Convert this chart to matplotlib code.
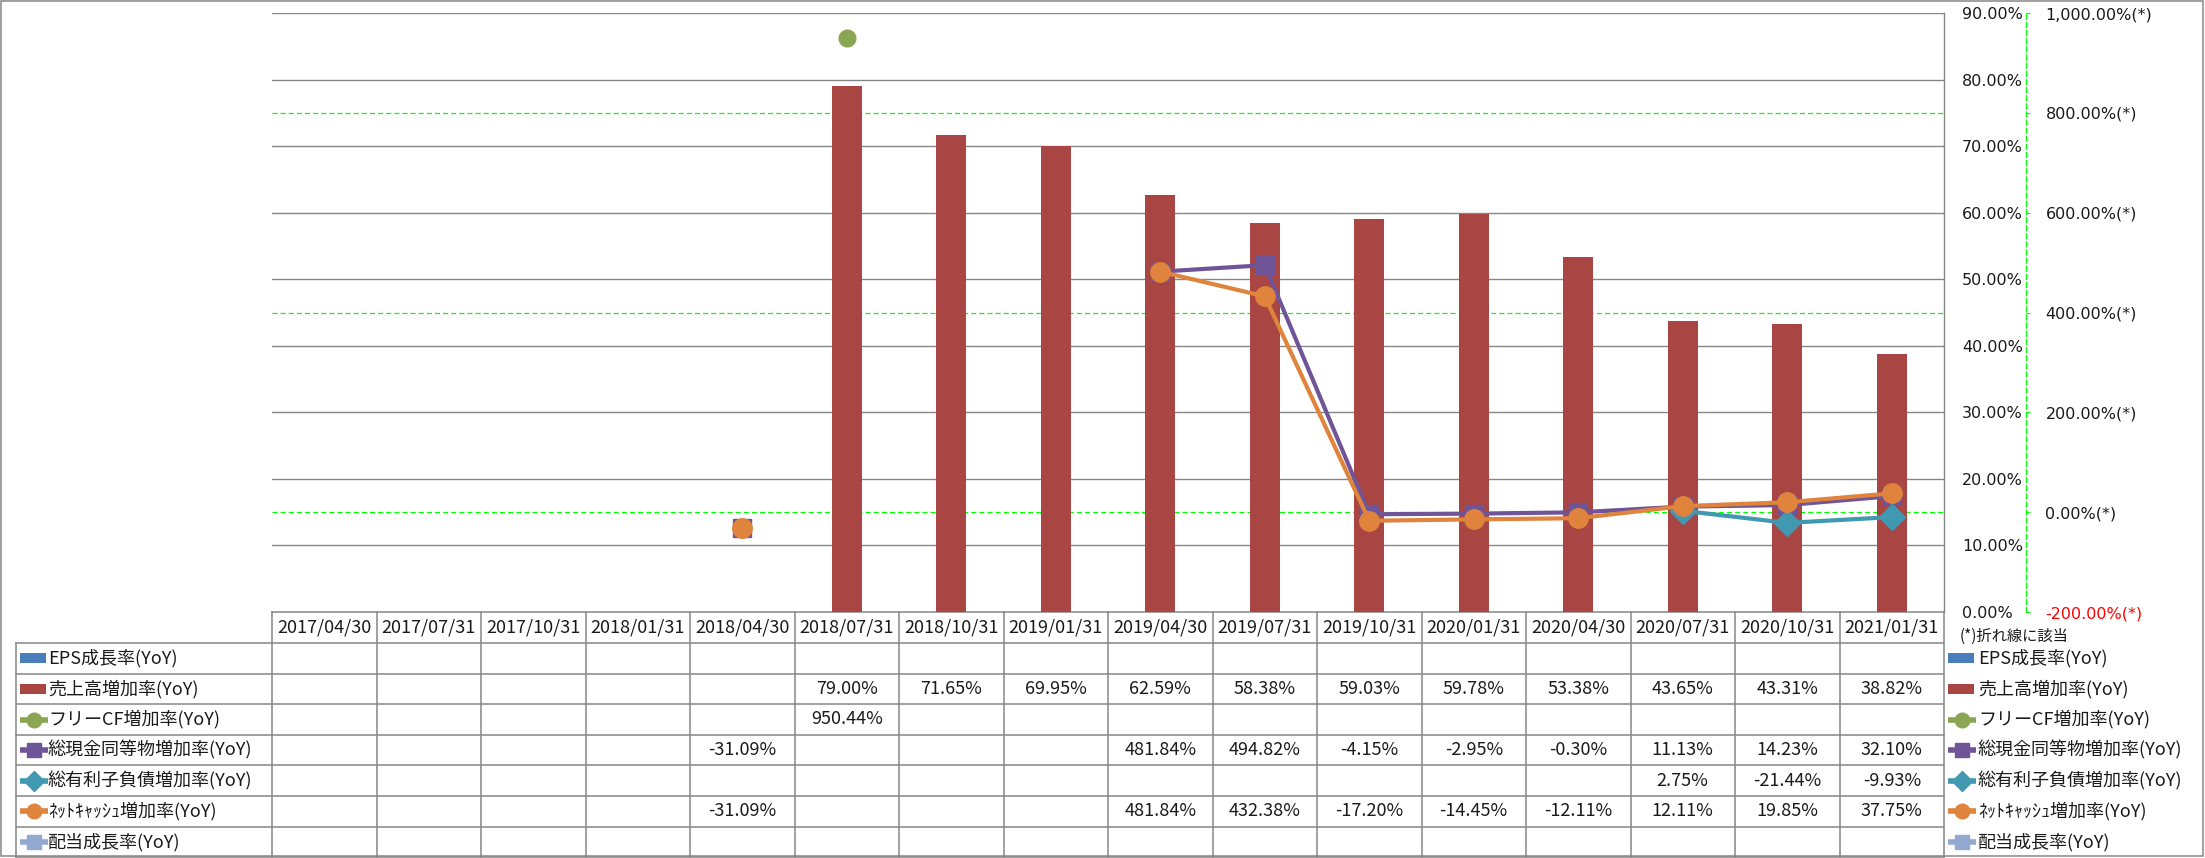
import numpy as np
import matplotlib
matplotlib.use("Agg")
import matplotlib.pyplot as plt
from matplotlib.patches import Rectangle

plt.rcParams['font.family'] = ['Noto Sans CJK JP', 'DejaVu Sans']

nan = np.nan
dates = ["2017/04/30", "2017/07/31", "2017/10/31", "2018/01/31", "2018/04/30",
         "2018/07/31", "2018/10/31", "2019/01/31", "2019/04/30", "2019/07/31",
         "2019/10/31", "2020/01/31", "2020/04/30", "2020/07/31", "2020/10/31",
         "2021/01/31"]

# bars (left scale, %)
eps_growth = [nan] * 16
sales_growth = [nan, nan, nan, nan, nan, 79.00, 71.65, 69.95, 62.59, 58.38,
                59.03, 59.78, 53.38, 43.65, 43.31, 38.82]
# lines (right scale, %)
fcf_growth = [nan, nan, nan, nan, nan, 950.44, nan, nan, nan, nan,
              nan, nan, nan, nan, nan, nan]
cash_growth = [nan, nan, nan, nan, -31.09, nan, nan, nan, 481.84, 494.82,
               -4.15, -2.95, -0.30, 11.13, 14.23, 32.10]
debt_growth = [nan, nan, nan, nan, nan, nan, nan, nan, nan, nan,
               nan, nan, nan, 2.75, -21.44, -9.93]
netcash_growth = [nan, nan, nan, nan, -31.09, nan, nan, nan, 481.84, 432.38,
                  -17.20, -14.45, -12.11, 12.11, 19.85, 37.75]
div_growth = [nan] * 16

names = ["EPS成長率(YoY)", "売上高増加率(YoY)", "フリーCF増加率(YoY)",
         "総現金同等物増加率(YoY)", "総有利子負債増加率(YoY)",
         "ﾈｯﾄｷｬｯｼｭ増加率(YoY)", "配当成長率(YoY)"]
rows = [eps_growth, sales_growth, fcf_growth, cash_growth, debt_growth,
        netcash_growth, div_growth]
colors = ["#4A7EBB", "#A94643", "#8AA652", "#6F5597", "#4099B0", "#E0833C", "#93A9CF"]
kinds = ["bar", "bar", "o", "s", "D", "o", "s"]

left_ticks = np.arange(0, 91, 10)
right_ticks = np.arange(-200, 1001, 200)
right_grid = [0, 400, 800]

W, H = 2205, 858
GRAY = "#868686"
LIME = "#00FF00"
DASH = (0, (4, 2.5))

fig = plt.figure(figsize=(W / 100, H / 100), dpi=100)

# overlay in pixel coordinates for the table and keys
tab = fig.add_axes([0, 0, 1, 1])
tab.set_xlim(0, W)
tab.set_ylim(H, 0)
tab.axis('off')

px_l, px_r, px_t, px_b = 272, 1944, 13, 612
ax = fig.add_axes([px_l / W, 1 - px_b / H, (px_r - px_l) / W, (px_b - px_t) / H])
ax.patch.set_visible(False)
ax2 = ax.twinx()

x = np.arange(len(dates))
ax.set_xlim(-0.5, len(dates) - 0.5)
ax.set_ylim(0, 90)
ax.set_xticks([])
ax.yaxis.tick_right()
ax.set_yticks(left_ticks)
ax.set_yticklabels(["%.2f%%" % v for v in left_ticks])
ax.tick_params(axis='y', left=False, labelleft=False, right=True, labelright=True,
               length=0, pad=13, labelsize=11.5, labelcolor="#1a1a1a",
               labelfontfamily='DejaVu Sans')
for s in ['left', 'top', 'bottom']:
    ax.spines[s].set_visible(False)
ax.spines['right'].set_color(GRAY)
ax.spines['right'].set_linewidth(1.0)
for v in left_ticks[1:]:
    ax.axhline(v, color=GRAY, lw=1.0, zorder=0)

ax2.set_ylim(right_ticks[0], right_ticks[-1])
ax2.set_xlim(ax.get_xlim())

# green dashed grid for the right scale, drawn behind the bars
lo2, hi2 = ax2.get_ylim()
lo1, hi1 = ax.get_ylim()
for v in right_grid:
    ax.axhline(np.interp(v, [lo2, hi2], [lo1, hi1]), color=LIME, lw=0.9,
               linestyle=DASH, zorder=0.5)

ax.bar(x, eps_growth, width=0.29, color=colors[0], zorder=2)
ax.bar(x, sales_growth, width=0.29, color=colors[1], zorder=2)

ax2.plot(x, fcf_growth, color=colors[2], lw=3, marker='o', ms=12, mec=colors[2])
ax2.plot(x, cash_growth, color=colors[3], lw=3, marker='s', ms=13, mec=colors[3])
ax2.plot(x, debt_growth, color=colors[4], lw=3, marker='D', ms=13, mec=colors[4])
ax2.plot(x, netcash_growth, color=colors[5], lw=3, marker='o', ms=14, mec=colors[5])

for s in ['left', 'top', 'bottom']:
    ax2.spines[s].set_visible(False)
ax2.spines['right'].set_position(('outward', 59))
ax2.spines['right'].set_color(LIME)
ax2.spines['right'].set_linestyle(DASH)
ax2.spines['right'].set_linewidth(0.9)
ax2.set_yticks(right_ticks)
ax2.set_yticklabels(["{:,.2f}%(*)".format(v) for v in right_ticks])
ax2.tick_params(axis='y', direction='out', length=3, width=0.8, color=LIME,
                pad=11, labelsize=11.5, labelcolor="#1a1a1a",
                labelfontfamily='DejaVu Sans')
ax2.get_yticklabels()[0].set_color("red")

# outer border
tab.add_patch(Rectangle((1, 1), W - 3, H - 3, fill=False, edgecolor=GRAY, lw=1.1))

# data table
col_w = (px_r - px_l) / len(dates)
head_t, head_b = 612, 643
row_h = 30.6
tbl_b = head_b + row_h * len(names)
lab_l = 16
tab.plot([px_l, px_r], [head_t, head_t], color=GRAY, lw=1.1)
for k in range(len(names) + 1):
    yy = head_b + k * row_h
    tab.plot([lab_l, px_r], [yy, yy], color=GRAY, lw=1.1)
tab.plot([lab_l, lab_l], [head_b, tbl_b], color=GRAY, lw=1.1)
for k in range(len(dates) + 1):
    xx = px_l + k * col_w
    tab.plot([xx, xx], [head_t, tbl_b], color=GRAY, lw=1.1)

for j, d in enumerate(dates):
    tab.text(px_l + (j + 0.5) * col_w, (head_t + head_b) / 2, d,
             ha='center', va='center', fontsize=13, color="#1a1a1a")

for i, (name, vals) in enumerate(zip(names, rows)):
    yc = head_b + (i + 0.5) * row_h
    for j, v in enumerate(vals):
        if not np.isnan(v):
            tab.text(px_l + (j + 0.5) * col_w, yc, "%.2f%%" % v,
                     ha='center', va='center', fontsize=13, color="#1a1a1a")
    for x0, tx in [(20, 48), (1948, 1978)]:
        if kinds[i] == "bar":
            tab.add_patch(Rectangle((x0, yc - 5), 26, 10, color=colors[i], lw=0))
        else:
            tab.plot([x0, x0 + 28], [yc, yc], color=colors[i], lw=4,
                     solid_capstyle='butt')
            tab.plot(x0 + 14, yc, marker=kinds[i], ms=10.5, color=colors[i])
        tab.text(tx, yc, name, ha='left', va='center', fontsize=13, color="#1a1a1a")

tab.text(1960, 636, "(*)折れ線に該当", ha='left', va='center', fontsize=11,
         color="#1a1a1a")

fig.savefig("out.png", dpi=100)
